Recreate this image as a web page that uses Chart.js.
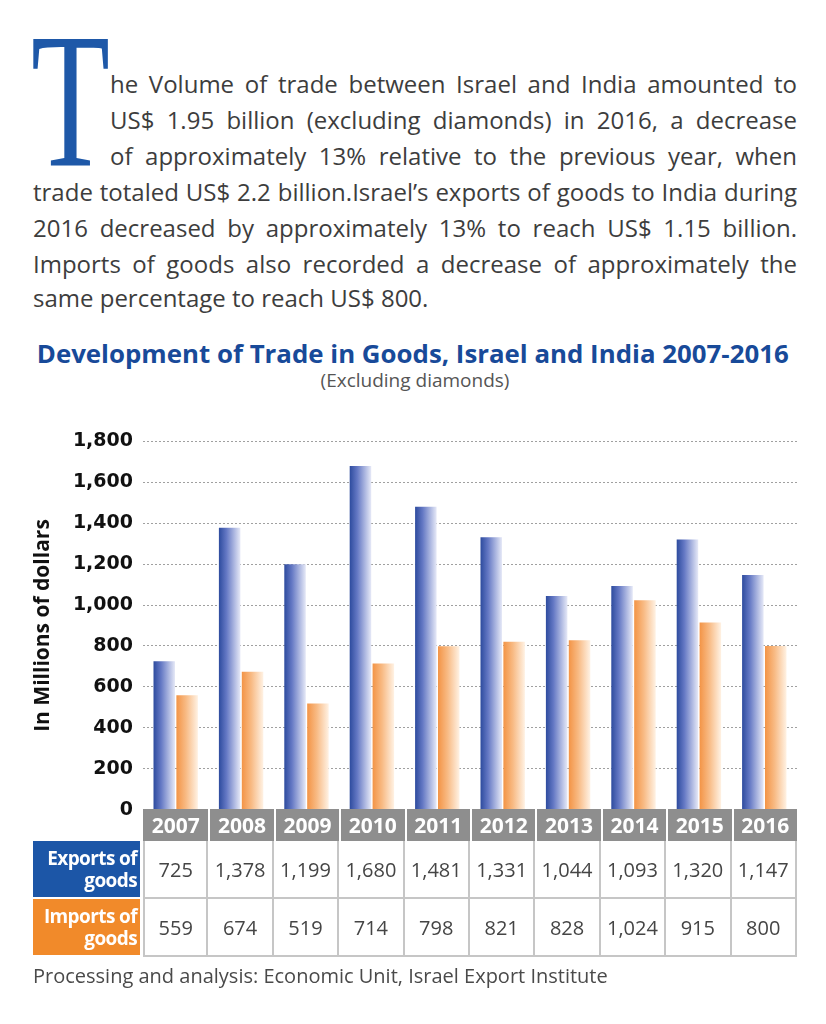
<!DOCTYPE html>
<html>
<head>
<meta charset="utf-8">
<script src="https://cdn.jsdelivr.net/npm/chart.js@4.4.1/dist/chart.umd.min.js"></script>
<style>
  html, body { margin: 0; padding: 0; background: #fff; }
  body { width: 826px; height: 1024px; position: relative; overflow: hidden; font-family: "Open Sans", sans-serif; }
  .dropcap { position: absolute; left: 31px; top: 4px; font-family: "Liberation Serif", serif; font-size: 193px; line-height: 1; color: #1e58a8; transform: scaleX(0.67); transform-origin: left top; }
  .line { position: absolute; white-space: nowrap; font-size: 24px; line-height: 1; color: #3d3d3d; transform-origin: left center; }
  #title { position: absolute; left: 0; width: 826px; top: 341px; text-align: center; }
  #title span { display: inline-block; white-space: nowrap; font-size: 25px; font-weight: 700; color: #184a99; line-height: 1; }
  #subtitle { position: absolute; left: 0; width: 830px; top: 371px; text-align: center; font-size: 19px; color: #555; line-height: 1; }
  #chartBox { position: absolute; left: 0; top: 420px; width: 826px; height: 411px; }
  #table { position: absolute; left: 33px; top: 809px; width: 764px; border-collapse: separate; border-spacing: 0; table-layout: fixed; }
  #table td, #table th { padding: 0; }
  #table th { height: 32px; background: #8e8e8e; color: #fff; font-size: 21px; font-weight: 700; border-left: 2px solid #fff; }
  #table th.first { border-left: none; }
  #table td.val { height: 56px; text-align: center; font-size: 20px; color: #454545; background: #fff; border-right: 2px solid #c6c6c6; border-bottom: 2px solid #c6c6c6; }
  #table td.val.first { border-left: 2px solid #c6c6c6; }
  #table td.lab { color: #fff; font-weight: 700; font-size: 19px; letter-spacing: -0.6px; line-height: 22px; text-align: right; padding-right: 3px; white-space: nowrap; border-bottom: 2px solid #fff; }
  #table td.exp { background: #1c56a7; }
  #table td.imp { background: #f18a2a; }
  #source { position: absolute; left: 33px; top: 966px; font-size: 20px; color: #4a4a4a; line-height: 1; white-space: nowrap; }
</style>
</head>
<body>
<div class="dropcap">T</div>
<div id="para"></div>
<div id="title"><span>Development of Trade in Goods, Israel and India 2007-2016</span></div>
<div id="subtitle">(Excluding diamonds)</div>
<div id="chartBox"><canvas id="chart"></canvas></div>
<table id="table"></table>
<div id="source">Processing and analysis: Economic Unit, Israel Export Institute</div>
<script>
const years = ['2007', '2008', '2009', '2010', '2011', '2012', '2013', '2014', '2015', '2016'];
const exportsGoods = [725, 1378, 1199, 1680, 1481, 1331, 1044, 1093, 1320, 1147];
const importsGoods = [559, 674, 519, 714, 798, 821, 828, 1024, 915, 800];
const yTicks = [0, 200, 400, 600, 800, 1000, 1200, 1400, 1600, 1800];

const exportStops = [[0, '#2d4b9e'], [0.35, '#6478c4'], [1, '#e6e9f7']];
const importStops = [[0, '#f39446'], [0.45, '#f8bb85'], [1, '#fff2e4']];

// paragraph, laid out line by line like the print version
const paraLines = [
    { text: 'he Volume of trade between Israel and India amounted to', x: 110, y: 86, full: true },
    { text: 'US$ 1.95 billion (excluding diamonds) in 2016, a decrease', x: 110, y: 122, full: true },
    { text: 'of approximately 13% relative to the previous year, when', x: 110, y: 158, full: true },
    { text: 'trade totaled US$ 2.2 billion.Israel\u2019s exports of goods to India during', x: 33, y: 194, full: true },
    { text: '2016 decreased by approximately 13% to reach US$ 1.15 billion.', x: 33, y: 230, full: true },
    { text: 'Imports of goods also recorded a decrease of approximately the', x: 33, y: 266, full: true },
    { text: 'same percentage to reach US$ 800.', x: 33, y: 300, full: false }
];
const para = document.getElementById('para');
paraLines.forEach(l => {
    let d = document.createElement('div');
    d.className = 'line';
    d.textContent = l.text;
    d.style.left = l.x + 'px';
    d.style.top = (l.y - 14) + 'px';
    para.appendChild(d);
    let target = 797 - l.x;
    let w = d.getBoundingClientRect().width;
    if (!l.full) {
        if (w > 407) d.style.transform = 'scaleX(' + (407 / w) + ')';
        return;
    }
    let spaces = l.text.split(' ').length - 1;
    if (w > target) {
        d.style.transform = 'scaleX(' + (target / w) + ')';
    } else {
        d.style.wordSpacing = ((target - w) / spaces) + 'px';
    }
});

let ts = document.querySelector('#title span');
let tw = ts.getBoundingClientRect().width;
ts.style.transform = 'scaleX(' + (752 / tw) + ')';

// data table under the chart
const fmt = v => v.toLocaleString('en-US');
let html = '<colgroup><col style="width:107px"><col style="width:3px">' + years.map(() => '<col>').join('') + '</colgroup>';
html += '<tr><td></td><td></td>' + years.map((y, i) => `<th class="${i === 0 ? 'first' : ''}">${y}</th>`).join('') + '</tr>';
html += '<tr><td class="lab exp">Exports of<br>goods</td><td></td>' +
    exportsGoods.map((v, i) => `<td class="val${i === 0 ? ' first' : ''}">${fmt(v)}</td>`).join('') + '</tr>';
html += '<tr><td class="lab imp">Imports of<br>goods</td><td></td>' +
    importsGoods.map((v, i) => `<td class="val${i === 0 ? ' first' : ''}">${fmt(v)}</td>`).join('') + '</tr>';
document.getElementById('table').innerHTML = html;

// horizontal gradient on each bar
const barGradients = {
    id: 'barGradients',
    beforeDatasetsDraw(chart) {
        const c = chart.ctx;
        [exportStops, importStops].forEach((stops, di) => {
            chart.getDatasetMeta(di).data.forEach(bar => {
                let left = bar.x - bar.width / 2;
                let g = c.createLinearGradient(left, 0, left + bar.width, 0);
                stops.forEach(s => g.addColorStop(s[0], s[1]));
                bar.options = Object.assign({}, bar.options, { backgroundColor: g });
            });
        });
    }
};

const ctx = document.getElementById('chart').getContext('2d');
const chart = new Chart(ctx, {
    type: 'bar',
    data: {
        labels: years,
        datasets: [
            { label: 'Exports of goods', data: exportsGoods, backgroundColor: '#5a6fbf', borderWidth: 0 },
            { label: 'Imports of goods', data: importsGoods, backgroundColor: '#f6a868', borderWidth: 0 }
        ]
    },
    options: {
        responsive: true,
        maintainAspectRatio: false,
        animation: false,
        layout: { padding: { top: 19, right: 29, left: 0, bottom: 0 } },
        datasets: { bar: { categoryPercentage: 0.7, barPercentage: 0.94 } },
        plugins: { legend: { display: false }, tooltip: { enabled: false } },
        scales: {
            x: { display: false },
            y: {
                min: yTicks[0],
                max: yTicks[yTicks.length - 1],
                afterBuildTicks: scale => { scale.ticks = yTicks.map(v => ({ value: v })); },
                afterFit: scale => { scale.width = 143; },
                ticks: {
                    padding: 10,
                    color: '#111',
                    font: { family: 'DejaVu Sans', size: 19, weight: 'bold' },
                    callback: v => v.toLocaleString('en-US')
                },
                grid: { color: '#a0a0a0', lineWidth: 1, drawTicks: false },
                border: { display: false, dash: [2, 2] },
                title: {
                    display: true,
                    text: 'In Millions of dollars',
                    color: '#111',
                    font: { family: 'Open Sans', size: 21, weight: 'bold' },
                    padding: { top: 30, bottom: 0 }
                }
            }
        }
    },
    plugins: [barGradients]
});
</script>
</body>
</html>
